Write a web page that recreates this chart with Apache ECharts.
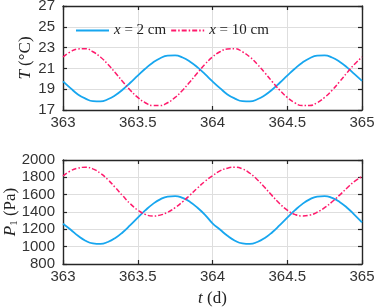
<!DOCTYPE html>
<html>
<head>
<meta charset="utf-8">
<script src="https://cdn.jsdelivr.net/npm/echarts@6/dist/echarts.min.js"></script>
<style>html,body{margin:0;padding:0;background:#fff}#c{width:374px;height:308px}</style>
</head>
<body>
<div id="c"></div>
<script>
const times = [363.00,363.05,363.10,363.15,363.20,363.25,363.30,363.35,363.40,363.45,363.50,363.55,363.60,363.65,363.70,363.75,363.80,363.85,363.90,363.95,
  364.00,364.05,364.10,364.15,364.20,364.25,364.30,364.35,364.40,364.45,364.50,364.55,364.60,364.65,364.70,364.75,364.80,364.85,364.90,364.95,365.00];
const tempX2 = [19.75,19.10,18.50,18.10,17.85,17.83,18.03,18.42,18.97,19.62,20.30,20.97,21.55,21.98,22.22,22.25,22.05,21.65,21.10,20.45,
  19.75,19.10,18.50,18.10,17.85,17.83,18.03,18.42,18.97,19.62,20.30,20.97,21.55,21.98,22.22,22.25,22.05,21.65,21.10,20.45,19.80];
const tempX10 = [22.10,22.60,22.87,22.90,22.60,22.10,21.40,20.58,19.72,18.90,18.21,17.70,17.43,17.43,17.70,18.21,18.90,19.72,20.58,21.40,
  22.10,22.60,22.87,22.90,22.60,22.10,21.40,20.58,19.72,18.90,18.21,17.70,17.43,17.43,17.70,18.21,18.90,19.72,20.58,21.40,22.10];
const presX2 = [1265,1198,1125,1069,1038,1032,1054,1100,1167,1248,1334,1418,1491,1546,1578,1584,1562,1516,1449,1368,
  1270,1198,1125,1069,1038,1032,1054,1100,1167,1248,1334,1418,1491,1546,1578,1584,1562,1516,1449,1368,1280];
const presX10 = [1815,1874,1906,1916,1897,1847,1773,1682,1586,1495,1422,1373,1354,1364,1397,1450,1518,1595,1677,1754,
  1818,1874,1906,1916,1897,1847,1773,1682,1586,1495,1422,1373,1354,1364,1397,1450,1518,1595,1677,1754,1810];
const seriesNames = ['x = 2 cm', 'x = 10 cm'];
const xTickInterval = 0.5;

const BLUE = '#17a6ef', RED = '#ff1a6c', FRAME = '#262626', GRIDC = '#dedede';
const sans = 'Liberation Sans', serif = 'Liberation Serif';
const pairs = (xs, ys) => xs.map((x, i) => [x, ys[i]]);

function xAx(grid, pos, labels, name) {
  return {
    type: 'value', gridIndex: grid, position: pos, min: 363, max: 365, interval: xTickInterval,
    axisLine: {show: true, onZero: false, lineStyle: {color: FRAME, width: 1.4}},
    axisTick: {show: true, inside: true, length: 4, lineStyle: {color: FRAME, width: 1.2}},
    axisLabel: {show: labels, fontFamily: sans, fontSize: 15, color: '#333', margin: 5,
      formatter: v => String(v)},
    splitLine: {show: labels, lineStyle: {color: GRIDC, width: 1}},
    name: name || '', nameLocation: 'middle', nameGap: 26, nameMoveOverlap: false,
    nameTextStyle: {fontFamily: serif, fontSize: 17, color: '#222',
      rich: {i: {fontFamily: serif, fontStyle: 'italic', fontSize: 17, color: '#222'}}}
  };
}
function yAx(grid, pos, labels, min, max, interval, name, gap) {
  return {
    type: 'value', gridIndex: grid, position: pos, min, max, interval,
    axisLine: {show: true, onZero: false, lineStyle: {color: FRAME, width: 1.4}},
    axisTick: {show: true, inside: true, length: 4, lineStyle: {color: FRAME, width: 1.2}},
    axisLabel: {show: labels, fontFamily: sans, fontSize: 15, color: '#333', margin: 8,
      formatter: v => String(v)},
    splitLine: {show: labels, lineStyle: {color: GRIDC, width: 1}},
    name: name || '', nameLocation: 'middle', nameGap: gap || 30, nameRotate: 90, nameMoveOverlap: false,
    nameTextStyle: {fontFamily: serif, fontSize: 17, color: '#222',
      rich: {
        i: {fontFamily: serif, fontStyle: 'italic', fontSize: 17, color: '#222'},
        s: {fontFamily: serif, fontSize: 11, color: '#222', verticalAlign: 'bottom', padding: [8, 0, 0, 0]},
        n: {fontFamily: serif, fontSize: 17, color: '#222'}
      }}
  };
}
function line(name, xi, yi, data, color, dashed) {
  return {
    name, type: 'line', xAxisIndex: xi, yAxisIndex: yi, data, smooth: true, showSymbol: false,
    symbol: 'none', animation: false,
    lineStyle: {color, width: dashed ? 1.5 : 1.8, type: dashed ? [5, 2, 1.5, 2] : 'solid'},
    itemStyle: {color}
  };
}

const chart = echarts.init(document.getElementById('c'), null, {renderer: 'canvas'});
chart.setOption({
  animation: false,
  backgroundColor: '#fff',
  grid: [
    {left: 63, right: 12, top: 6, height: 104, containLabel: false, outerBoundsMode: 'none'},
    {left: 63, right: 12, top: 160, height: 104, containLabel: false, outerBoundsMode: 'none'}
  ],
  xAxis: [
    xAx(0, 'bottom', true), xAx(0, 'top', false),
    xAx(1, 'bottom', true, '{i|t} (d)'), xAx(1, 'top', false)
  ],
  yAxis: [
    yAx(0, 'left', true, 17, 27, 2, '{i|T} ({n|°}C)', 29), yAx(0, 'right', false, 17, 27, 2),
    yAx(1, 'left', true, 800, 2000, 200, '{i|P}{s|1} (Pa)', 43), yAx(1, 'right', false, 800, 2000, 200)
  ],
  legend: {
    left: 75, top: 23, itemWidth: 33, itemHeight: 14, itemGap: 4, padding: 0,
    data: seriesNames,
    itemStyle: {opacity: 0},
    formatter: n => n === seriesNames[0] ? '{i|x} = 2 cm' : '{i|x} = 10 cm',
    textStyle: {fontFamily: serif, fontSize: 15, color: '#222',
      rich: {i: {fontFamily: serif, fontStyle: 'italic', fontSize: 15, color: '#222'}}}
  },
  series: [
    line(seriesNames[0], 0, 0, pairs(times, tempX2), BLUE, false),
    line(seriesNames[1], 0, 0, pairs(times, tempX10), RED, true),
    line(seriesNames[0], 2, 2, pairs(times, presX2), BLUE, false),
    line(seriesNames[1], 2, 2, pairs(times, presX10), RED, true)
  ]
});
</script>
</body>
</html>
